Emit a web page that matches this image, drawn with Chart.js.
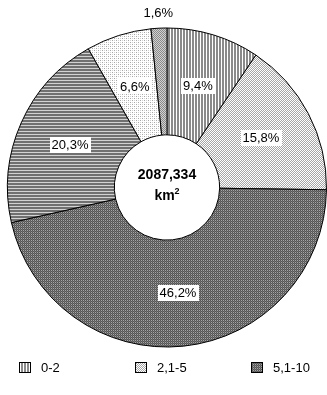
<!DOCTYPE html>
<html>
<head>
<meta charset="utf-8">
<script src="https://cdn.jsdelivr.net/npm/chart.js@4/dist/chart.umd.min.js"></script>
<style>
  html, body { margin: 0; padding: 0; background: #fff; overflow: hidden; }
  #wrap { position: relative; width: 327px; height: 395px; }
</style>
</head>
<body>
<div id="wrap"><canvas id="chart"></canvas></div>
<script>
const categories = ["0-2", "2,1-5", "5,1-10", "10,1-20", "20,1-50", ">50"];
const shares = [9.4, 15.8, 46.2, 20.3, 6.6, 1.6];
const legendCount = 3;
const totalArea = "2087,334";
const areaUnit = "km";

const FONT = "Arial, 'Liberation Sans', sans-serif";

// one-letter shade codes for the hatch tiles
const shades = {
  w: "#ffffff",
  l: "#d2d2d2",
  g: "#a6a6a6",
  m: "#8a8a8a",
  d: "#707070",
  k: "#555555",
};

const tile = (rows) => {
  const c = document.createElement("canvas");
  c.width = rows[0].length;
  c.height = rows.length;
  const g = c.getContext("2d");
  rows.forEach((row, y) =>
    [...row].forEach((ch, x) => {
      g.fillStyle = shades[ch];
      g.fillRect(x, y, 1, 1);
    })
  );
  return g.createPattern(c, "repeat");
};

const hatches = [
  tile(["mmw"]),                          // vertical lines
  tile(["wg", "gw"]),                     // light dots
  tile(["kg", "dk"]),                     // dark fine weave
  tile(["d", "d", "l"]),                  // horizontal lines
  tile(["gwlw", "wwww", "lwgw", "wwww"]), // sparse dots
  tile(["ml", "lm"]),                     // grey check
];

const fmt = (v) => v.toFixed(1).replace(".", ",") + "%";

const sliceLabels = {
  id: "sliceLabels",
  afterDatasetsDraw(chart) {
    const { ctx } = chart;
    const meta = chart.getDatasetMeta(0);
    ctx.save();
    ctx.font = "13px " + FONT;
    ctx.textAlign = "center";
    ctx.textBaseline = "middle";
    meta.data.forEach((arc, i) => {
      const { x, y, startAngle, endAngle, innerRadius, outerRadius } =
        arc.getProps(["x", "y", "startAngle", "endAngle", "innerRadius", "outerRadius"], true);
      const mid = (startAngle + endAngle) / 2;
      const outside = shares[i] < 3;
      const r = outside ? outerRadius + 15 : (innerRadius + outerRadius) / 2;
      const px = x + Math.cos(mid) * r;
      const py = y + Math.sin(mid) * r;
      const text = fmt(shares[i]);
      const w = ctx.measureText(text).width;
      if (!outside) {
        ctx.fillStyle = "#fff";
        ctx.fillRect(Math.round(px - w / 2 - 2), Math.round(py - 8), Math.round(w + 4), 16);
      }
      ctx.fillStyle = "#000";
      ctx.fillText(text, px, py + 0.5);
    });

    // total in the hole, unit with a raised 2
    const { x, y } = meta.data[0];
    ctx.font = "bold 14px " + FONT;
    ctx.fillText(totalArea, x, y - 12);
    const unitW = ctx.measureText(areaUnit).width;
    ctx.font = "bold 9px " + FONT;
    const supW = ctx.measureText("2").width;
    const ux = x - (unitW + supW) / 2;
    ctx.textAlign = "left";
    ctx.fillText("2", ux + unitW, y + 4);
    ctx.font = "bold 14px " + FONT;
    ctx.fillText(areaUnit, ux, y + 9);
    ctx.restore();
  },
};

// legend laid out in fixed columns under the ring
const columnLegend = {
  id: "columnLegend",
  afterDraw(chart) {
    const { ctx } = chart;
    const top = 362;
    ctx.save();
    ctx.font = "13px " + FONT;
    ctx.textBaseline = "middle";
    ctx.textAlign = "left";
    for (let i = 0; i < legendCount; i++) {
      const left = 19 + i * 116;
      ctx.fillStyle = hatches[i];
      ctx.fillRect(left, top, 12, 11);
      ctx.strokeStyle = "#000";
      ctx.lineWidth = 1;
      ctx.strokeRect(left + 0.5, top + 0.5, 11, 10);
      ctx.fillStyle = "#000";
      ctx.fillText(categories[i], left + 22, top + 6);
    }
    ctx.restore();
  },
};

new Chart(document.getElementById("chart"), {
  type: "doughnut",
  data: {
    labels: categories,
    datasets: [
      {
        data: shares,
        backgroundColor: hatches,
        borderColor: "#000",
        borderWidth: 1,
        borderAlign: "center",
      },
    ],
  },
  options: {
    responsive: true,
    maintainAspectRatio: false,
    animation: false,
    cutout: "33%",
    layout: { padding: { top: 27, bottom: 47, left: 7, right: 0 } },
    plugins: {
      legend: { display: false },
      tooltip: { enabled: false },
    },
  },
  plugins: [sliceLabels, columnLegend],
});
</script>
</body>
</html>
